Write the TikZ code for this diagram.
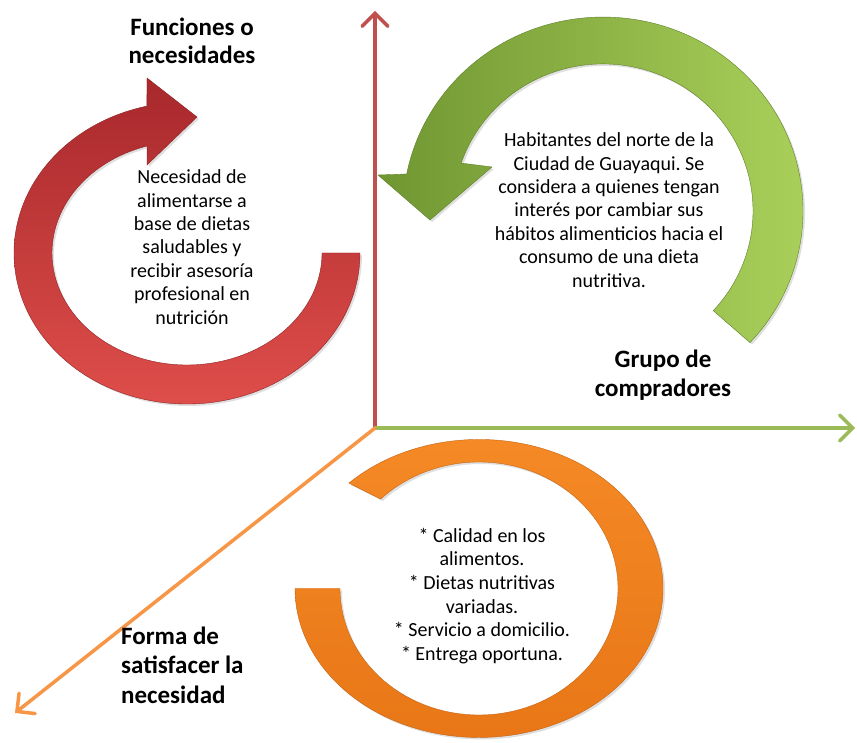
\documentclass[tikz,border=0pt]{standalone}
\usepackage{fontspec}
\setmainfont{Carlito}
\usetikzlibrary{arrows.meta,shadows}
\definecolor{axred}{RGB}{192,80,77}
\definecolor{axgreen}{RGB}{155,187,89}
\definecolor{axorange}{RGB}{247,150,70}
\definecolor{rdark}{RGB}{168,40,44}
\definecolor{rlight}{RGB}{222,78,74}
\definecolor{gdark}{RGB}{112,150,50}
\definecolor{glight}{RGB}{172,210,92}
\definecolor{odark}{RGB}{232,118,22}
\definecolor{olight}{RGB}{245,138,38}
\frenchspacing
\begin{document}
\begin{tikzpicture}[x=1pt,y=1pt,
  axis/.style={line width=3.5pt, line cap=round, -{Straight Barb[length=13pt,width=26pt,line cap=round]}},
  shadowed/.style={drop shadow={opacity=0.25,shadow xshift=2pt,shadow yshift=-2pt}},
  body/.style={font=\fontsize{20}{23.4}\selectfont, align=center, inner sep=0pt},
  title/.style={font=\fontsize{25}{28.5}\selectfont\bfseries, align=center, inner sep=0pt}]
\useasboundingbox (0,0) rectangle (857,742);
% axes
\coordinate (O) at (375,314);
\coordinate (ytop) at (375,731);
\coordinate (xright) at (855,314);
\coordinate (zend) at (15,29);
\draw[axis, axred] (O) -- (ytop);
\draw[axis, axgreen] (O) -- (xright);
\draw[axis, axorange] (O) -- (zend);
% red circular arrow
\shadedraw[shadowed, top color=rdark, bottom color=rlight, draw=rdark!85!black, line width=0.4pt]
  (360,489) arc[start angle=0, end angle=-256.6, x radius=173pt, y radius=151pt]
  -- (147,664) -- (197,625) -- (147,577) -- (147.1,596)
  arc[start angle=-252.8, end angle=0, x radius=135pt, y radius=112pt] -- cycle;
% green circular arrow
\shadedraw[shadowed, left color=gdark, right color=glight, draw=gdark!85!black, line width=0.4pt]
  (750,399.4) arc[start angle=-42.7, end angle=169, x radius=200pt, y radius=194pt]
  -- (378,567) -- (430,522) -- (492,575) -- (461.2,578.9)
  arc[start angle=161, end angle=-42.7, x radius=150pt, y radius=147pt] -- cycle;
% orange ring
\shadedraw[shadowed, top color=olight, bottom color=odark, draw=odark!85!black, line width=0.4pt]
  (348.9,258.9) arc[start angle=135, end angle=-180, x radius=184pt, y radius=149pt]
  -- (340,153.5)
  arc[start angle=-180, end angle=135, x radius=139pt, y radius=126.5pt] -- cycle;
% texts
\node[title] (t1) at (192,701) {Funciones o\\necesidades};
\node[body] (b1) at (192,495) {Necesidad de\\alimentarse a\\base de dietas\\saludables y\\recibir asesoría\\profesional en\\nutrición};
\node[body] (b2) at (609,532) {Habitantes del norte de la\\Ciudad de Guayaqui. Se\\considera a quienes tengan\\interés por cambiar sus\\hábitos alimenticios hacia el\\consumo de una dieta\\nutritiva.};
\node[title] (t2) at (663,367) {Grupo de\\compradores};
\node[body, font=\fontsize{20}{23.7}\selectfont] (b3) at (482,146) {* Calidad en los\\alimentos.\\* Dietas nutritivas\\variadas.\\* Servicio a domicilio.\\* Entrega oportuna.};
\node[title, align=left, anchor=west, font=\fontsize{25}{29.5}\selectfont\bfseries] (t3) at (121,77) {Forma de\\satisfacer la\\necesidad};
\end{tikzpicture}
\end{document}
